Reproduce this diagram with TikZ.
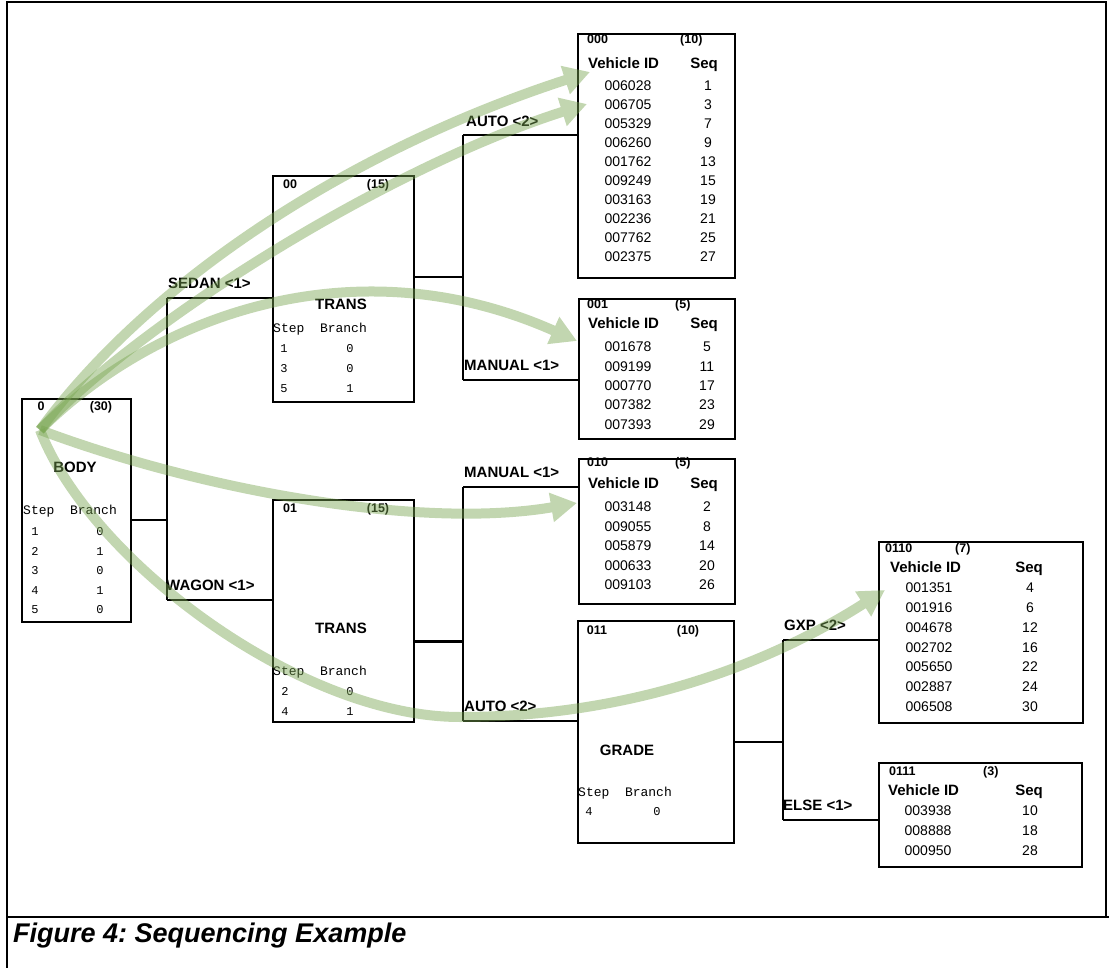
\documentclass[tikz,border=0pt]{standalone}
\usepackage{fontspec}
\setmainfont{Liberation Sans}
\newfontfamily\stepfont{Liberation Mono}
\usetikzlibrary{arrows.meta}
\definecolor{grn}{RGB}{120,165,80}
\frenchspacing
\begin{document}
\begin{tikzpicture}[x=1pt,y=-1pt,
  box/.style={draw, line width=2.2pt, inner sep=0pt, anchor=north west},
  conn/.style={line width=1.8pt},
  txt/.style={inner sep=0pt, text height=.72em, text depth=0pt},
  hdr/.style={txt, font=\fontsize{12.5}{13}\selectfont\bfseries},
  vid/.style={txt, font=\fontsize{15}{16}\selectfont\bfseries},
  idt/.style={txt, font=\fontsize{14}{15}\selectfont},
  big/.style={txt, font=\fontsize{15}{16}\selectfont\bfseries},
  blab/.style={txt, anchor=west, font=\fontsize{15}{16}\selectfont\bfseries},
  sb/.style={txt, anchor=west, font=\fontsize{13}{14}\stepfont},
  sbv/.style={txt, font=\fontsize{12}{13}\stepfont},
  garrow/.style={line width=10pt, draw=grn, -{Triangle[length=26pt,width=28pt]}},
]
\useasboundingbox (0,0) rectangle (1109,968);
% frame
\draw[line width=1.5pt] (7,968) -- (7,2) -- (1106,2) -- (1106,917);
\draw[line width=1.5pt] (7,917) -- (1109,917);
\node[anchor=west, inner sep=0pt, text height=.72em, text depth=0pt,
  font=\fontsize{27}{29}\selectfont\bfseries\itshape] (cap) at (13,939) {Figure 4: Sequencing Example};

% ---------- boxes ----------
\node[box, minimum width=109pt, minimum height=223pt] (b0) at (21,398) {};
\node[box, minimum width=141pt, minimum height=226pt] (b00) at (272,175) {};
\node[box, minimum width=141pt, minimum height=222pt] (b01) at (272,499) {};
\node[box, minimum width=157pt, minimum height=244pt] (b000) at (577,33) {};
\node[box, minimum width=156pt, minimum height=140pt] (b001) at (578,298) {};
\node[box, minimum width=156pt, minimum height=145pt] (b010) at (578,458) {};
\node[box, minimum width=156pt, minimum height=222pt] (b011) at (577,620) {};
\node[box, minimum width=204pt, minimum height=181pt] (b0110) at (878,541) {};
\node[box, minimum width=203pt, minimum height=104pt] (b0111) at (878,762) {};

% ---------- box 0 ----------
\node[hdr] (h0a) at (41,407) {0};
\node[hdr] (h0b) at (101,407) {(30)};
\node[big] (t0) at (75,469) {BODY};
\node[sb] (sb0) at (23,511) {Step~~Branch};
\foreach \s/\b [count=\i from 0] in {1/0,2/1,3/0,4/1,5/0}{
  \node[sbv] (s0r\i) at (35,{532+19.5*\i}) {\s};
  \node[sbv] (s0b\i) at (100,{532+19.5*\i}) {\b};
}
% ---------- box 00 ----------
\node[hdr] (h00a) at (290,185) {00};
\node[hdr] (h00b) at (378,185) {(15)};
\node[big] (t00) at (341,306) {TRANS};
\node[sb] (sb00) at (273,329) {Step~~Branch};
\foreach \s/\b [count=\i from 0] in {1/0,3/0,5/1}{
  \node[sbv] (s00r\i) at (284,{349+20*\i}) {\s};
  \node[sbv] (s00b\i) at (350,{349+20*\i}) {\b};
}
% ---------- box 01 ----------
\node[hdr] (h01a) at (290,509) {01};
\node[hdr] (h01b) at (378,509) {(15)};
\node[big] (t01) at (341,630) {TRANS};
\node[sb] (sb01) at (273,672) {Step~~Branch};
\foreach \s/\b [count=\i from 0] in {2/0,4/1}{
  \node[sbv] (s01r\i) at (285,{692+20*\i}) {\s};
  \node[sbv] (s01b\i) at (350,{692+20*\i}) {\b};
}
% ---------- box 011 ----------
\node[hdr] (h011a) at (597,631) {011};
\node[hdr] (h011b) at (688,631) {(10)};
\node[big] (t011) at (627,752) {GRADE};
\node[sb] (sb011) at (578,793) {Step~~Branch};
\node[sbv] (s011r0) at (589,812) {4};
\node[sbv] (s011b0) at (657,812) {0};

% ---------- leaf 000 ----------
\node[hdr, anchor=west] (h000a) at (587,40) {000};
\node[hdr, anchor=west] (h000b) at (680,40) {(10)};
\node[vid, anchor=west] (v000) at (588,65) {Vehicle ID};
\node[vid] (q000) at (704,65) {Seq};
\foreach \id/\sq [count=\i from 0] in {006028/1,006705/3,005329/7,006260/9,001762/13,009249/15,003163/19,002236/21,007762/25,002375/27}{
  \node[idt] (r000i\i) at (628,{86.7+19.07*\i}) {\id};
  \node[idt] (r000s\i) at (708,{86.7+19.07*\i}) {\sq};
}
% ---------- leaf 001 ----------
\node[hdr, anchor=west] (h001a) at (587,305) {001};
\node[hdr, anchor=west] (h001b) at (675,305) {(5)};
\node[vid, anchor=west] (v001) at (588,325) {Vehicle ID};
\node[vid] (q001) at (704,325) {Seq};
\foreach \id/\sq [count=\i from 0] in {001678/5,009199/11,000770/17,007382/23,007393/29}{
  \node[idt] (r001i\i) at (628,{348+19.45*\i}) {\id};
  \node[idt] (r001s\i) at (707,{348+19.45*\i}) {\sq};
}
% ---------- leaf 010 ----------
\node[hdr, anchor=west] (h010a) at (587,463) {010};
\node[hdr, anchor=west] (h010b) at (675,463) {(5)};
\node[vid, anchor=west] (v010) at (588,485) {Vehicle ID};
\node[vid] (q010) at (704,485) {Seq};
\foreach \id/\sq [count=\i from 0] in {003148/2,009055/8,005879/14,000633/20,009103/26}{
  \node[idt] (r010i\i) at (628,{508+19.5*\i}) {\id};
  \node[idt] (r010s\i) at (707,{508+19.5*\i}) {\sq};
}
% ---------- leaf 0110 ----------
\node[hdr, anchor=west] (h0110a) at (885,549) {0110};
\node[hdr, anchor=west] (h0110b) at (955,549) {(7)};
\node[vid, anchor=west] (v0110) at (890,569) {Vehicle ID};
\node[vid] (q0110) at (1029,569) {Seq};
\foreach \id/\sq [count=\i from 0] in {001351/4,001916/6,004678/12,002702/16,005650/22,002887/24,006508/30}{
  \node[idt] (r0110i\i) at (929,{589+19.83*\i}) {\id};
  \node[idt] (r0110s\i) at (1030,{589+19.83*\i}) {\sq};
}
% ---------- leaf 0111 ----------
\node[hdr, anchor=west] (h0111a) at (889,772) {0111};
\node[hdr, anchor=west] (h0111b) at (983,772) {(3)};
\node[vid, anchor=west] (v0111) at (888,792) {Vehicle ID};
\node[vid] (q0111) at (1029,792) {Seq};
\foreach \id/\sq [count=\i from 0] in {003938/10,008888/18,000950/28}{
  \node[idt] (r0111i\i) at (928,{812+20*\i}) {\id};
  \node[idt] (r0111s\i) at (1030,{812+20*\i}) {\sq};
}

% ---------- connectors ----------
\coordinate (j0) at (167,520);
\coordinate (j0a) at (167,298);
\coordinate (j0b) at (167,600);
\draw[conn] (b0.east |- j0) -- (j0);
\draw[conn] (j0a) -- (j0b);
\draw[conn] (j0a) -- (b00.west |- j0a);
\draw[conn] (j0b) -- (b01.west |- j0b);
\node[blab] (lsedan) at (168,285) {SEDAN <1>};
\node[blab] (lwagon) at (166,587) {WAGON <1>};

\coordinate (j1) at (463,277);
\coordinate (j1a) at (463,135);
\coordinate (j1b) at (463,380);
\draw[conn] (b00.east |- j1) -- (j1);
\draw[conn] (j1a) -- (j1b);
\draw[conn] (j1a) -- (b000.west |- j1a);
\draw[conn] (j1b) -- (b001.west |- j1b);
\node[blab] (lauto1) at (466,123) {AUTO <2>};
\node[blab] (lman1) at (464,367) {MANUAL <1>};

\coordinate (j2) at (463,641);
\coordinate (j2a) at (463,487);
\coordinate (j2b) at (463,721);
\draw[line width=3pt] (b01.east |- j2) -- (j2);
\draw[conn] (j2a) -- (j2b);
\draw[conn] (j2a) -- (b010.west |- j2a);
\draw[conn] (j2b) -- (b011.west |- j2b);
\node[blab] (lman2) at (464,474) {MANUAL <1>};
\node[blab] (lauto2) at (464,708) {AUTO <2>};

\coordinate (j3) at (783,742);
\coordinate (j3a) at (783,640);
\coordinate (j3b) at (783,820);
\draw[conn] (b011.east |- j3) -- (j3);
\draw[conn] (j3a) -- (j3b);
\draw[conn] (j3a) -- (b0110.west |- j3a);
\draw[conn] (j3b) -- (b0111.west |- j3b);
\node[blab] (lgxp) at (784,627) {GXP <2>};
\node[blab] (lelse) at (783,807) {ELSE <1>};

% ---------- green sequencing arrows ----------
\coordinate (src) at (40,430);
\coordinate (tA) at (590,72);
\coordinate (tB) at (587,104);
\coordinate (tC) at (577,341);
\coordinate (tD) at (577,503);
\coordinate (tE) at (885,590);
\coordinate (mE) at (460,717);
\begin{scope}[transparency group, opacity=.45]
\draw[garrow] (src) .. controls (150,280) and (350,150) .. (tA);
\end{scope}
\begin{scope}[transparency group, opacity=.45]
\draw[garrow] (src) .. controls (130,330) and (380,170) .. (tB);
\end{scope}
\begin{scope}[transparency group, opacity=.45]
\draw[garrow] (src) .. controls (150,320) and (350,240) .. (tC);
\end{scope}
\begin{scope}[transparency group, opacity=.45]
\draw[garrow] (src) .. controls (200,490) and (420,530) .. (tD);
\end{scope}
\begin{scope}[transparency group, opacity=.45]
\draw[garrow] (src) .. controls (90,560) and (300,717) .. (mE)
  .. controls (620,717) and (760,670) .. (tE);
\end{scope}
\end{tikzpicture}
\end{document}
